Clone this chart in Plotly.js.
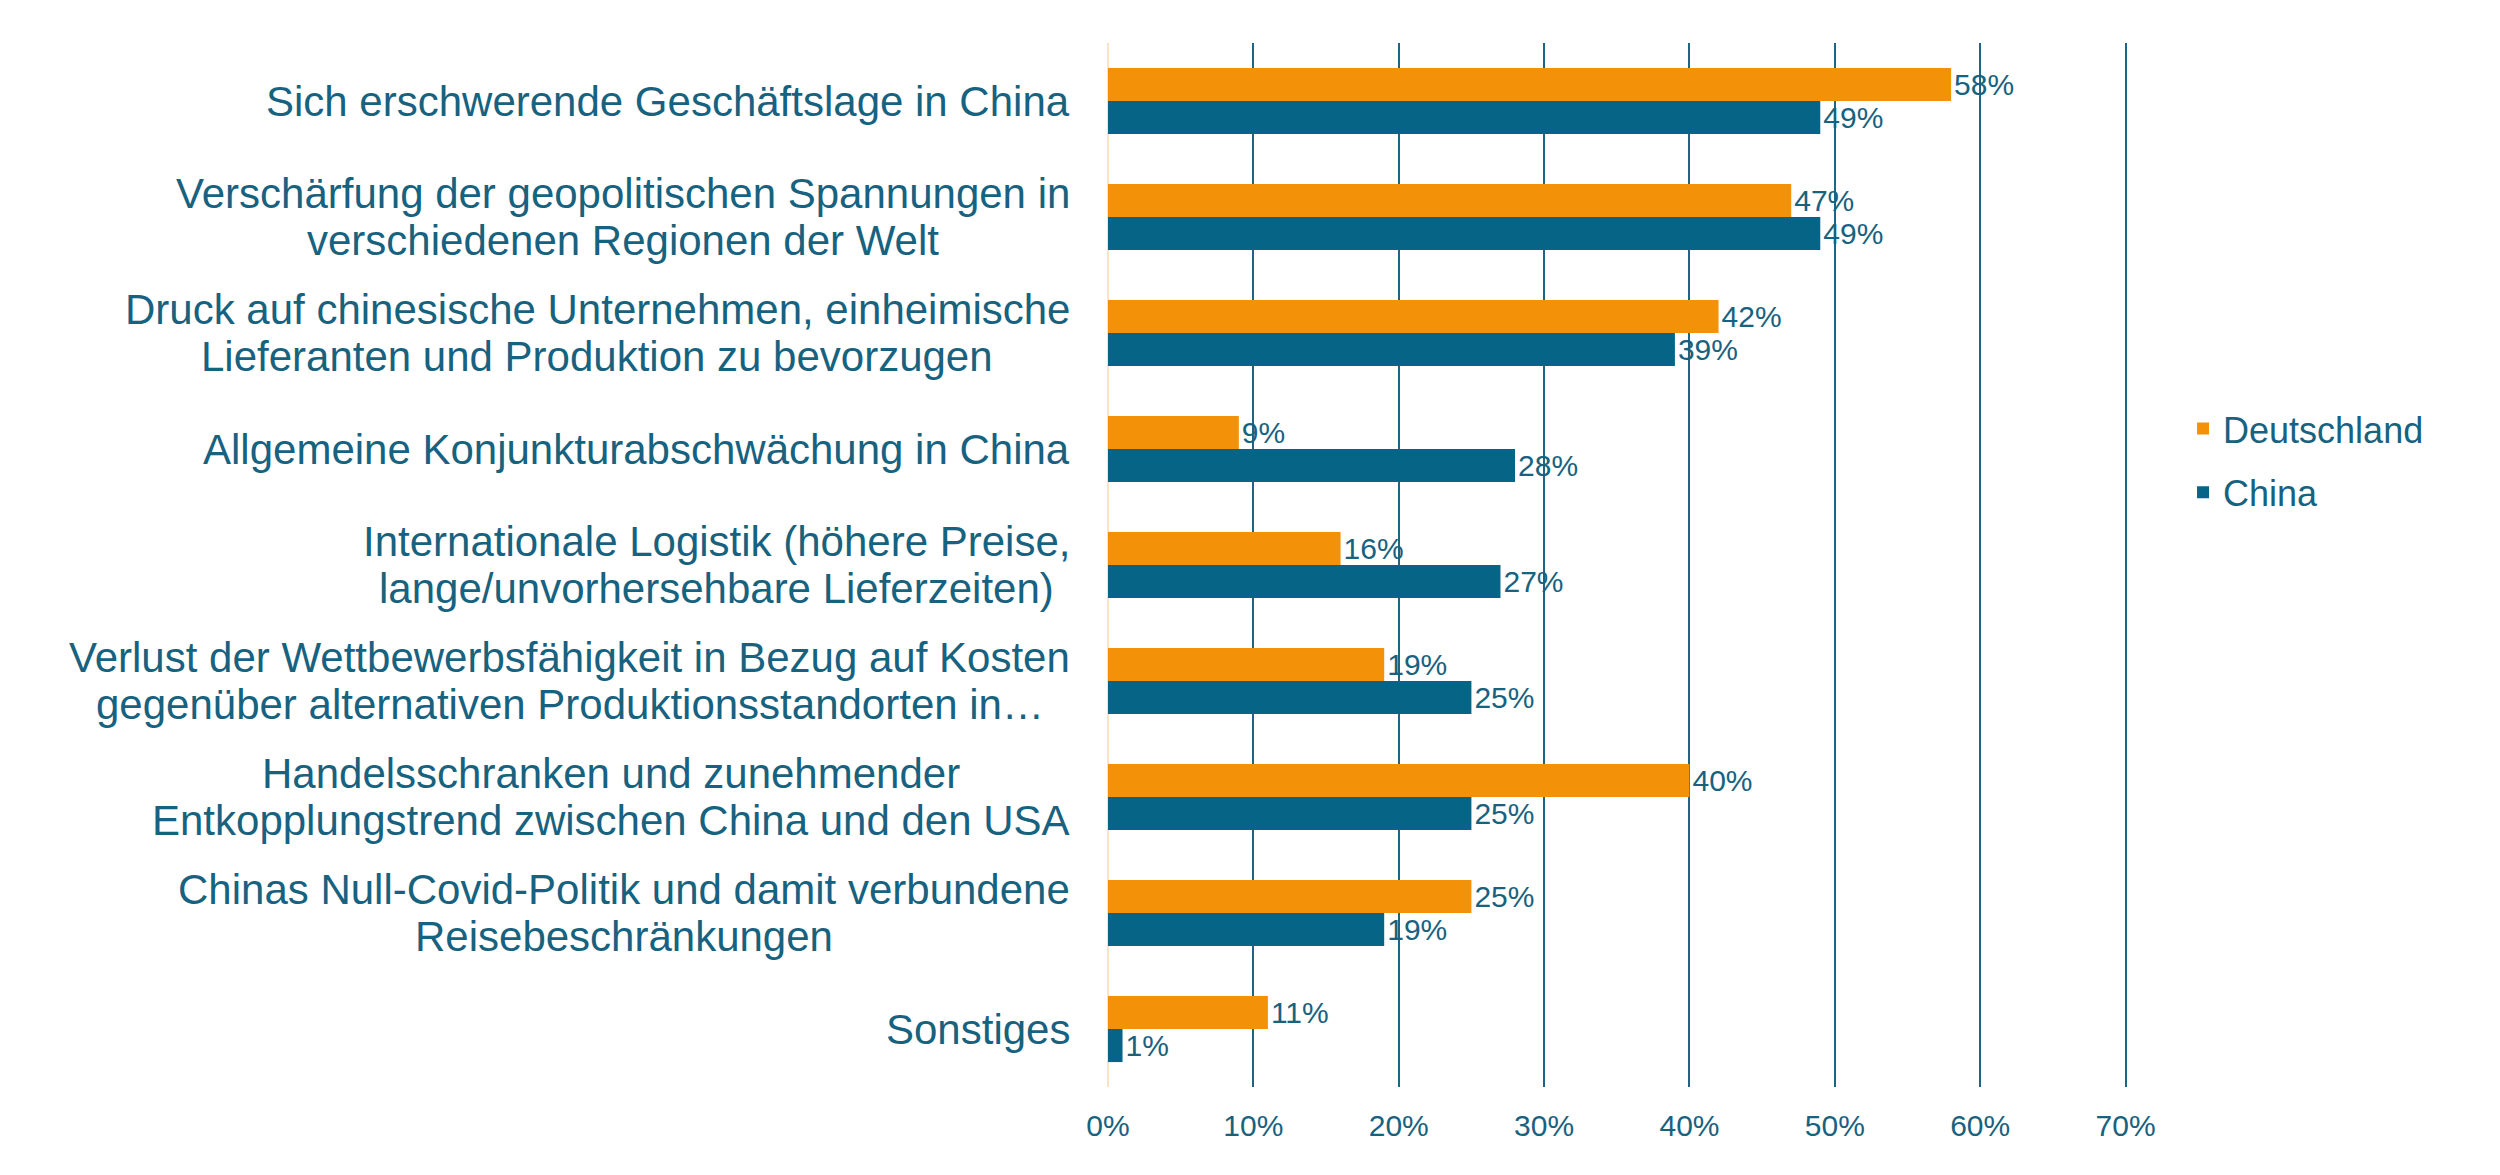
<!DOCTYPE html>
<html>
<head>
<meta charset="utf-8">
<script src="https://cdn.plot.ly/plotly-3.0.1.min.js"></script>
<style>
  html, body { margin: 0; padding: 0; background: #fff; }
  #chart { width: 2500px; height: 1175px; }
</style>
</head>
<body>
<div id="chart"></div>
<script>
    // categories top to bottom, "<br>" marks the line breaks of the labels
    let labels = [
        'Sich erschwerende Geschäftslage in China',
        'Verschärfung der geopolitischen Spannungen in<br>verschiedenen Regionen der Welt',
        'Druck auf chinesische Unternehmen, einheimische<br>Lieferanten und Produktion zu bevorzugen',
        'Allgemeine Konjunkturabschwächung in China',
        'Internationale Logistik (höhere Preise,<br>lange/unvorhersehbare Lieferzeiten) ',
        'Verlust der Wettbewerbsfähigkeit in Bezug auf Kosten<br>gegenüber alternativen Produktionsstandorten in…',
        'Handelsschranken und zunehmender<br>Entkopplungstrend zwischen China und den USA',
        'Chinas Null-Covid-Politik und damit verbundene<br>Reisebeschränkungen',
        'Sonstiges'
    ];
    let deutschland = [58, 47, 42, 9, 16, 19, 40, 25, 11];
    let china = [49, 49, 39, 28, 27, 25, 25, 19, 1];
    let xTicks = [0, 10, 20, 30, 40, 50, 60, 70];
    let xTickText = xTicks.map((v) => v + '%');

    let orange = '#F39208';
    let teal = '#066586';
    let textCol = '#17627F';
    let fontName = '"Liberation Sans", Arial, Helvetica, sans-serif';

    let W = 2500, H = 1175;
    let margin = {l: 1108, r: 373, t: 43, b: 88};
    let labelSize = 42;
    let lineGap = 47;
    let labelRight = 1070; // right edge of the category labels, px

    let traces = [
        {
            type: 'bar', orientation: 'h', name: 'Deutschland', legendgroup: 'de',
            x: deutschland, y: labels,
            marker: {color: orange},
            text: deutschland.map((v) => v + '%'), texttemplate: '%{text}',
            textposition: 'outside', cliponaxis: false, constraintext: 'none',
            textfont: {family: fontName, size: 30, color: textCol},
            hoverinfo: 'skip'
        },
        {
            type: 'bar', orientation: 'h', name: 'China', legendgroup: 'cn',
            x: china, y: labels,
            marker: {color: teal},
            text: china.map((v) => v + '%'), texttemplate: '%{text}',
            textposition: 'outside', cliponaxis: false, constraintext: 'none',
            textfont: {family: fontName, size: 30, color: textCol},
            hoverinfo: 'skip'
        }
    ];

    // category labels: one annotation per line, lines centred on the widest one
    let ctx = document.createElement('canvas').getContext('2d');
    ctx.font = labelSize + 'px "Liberation Sans"';
    let plotW = W - margin.l - margin.r;
    let annots = [];
    labels.forEach((lab) => {
        let lines = lab.split('<br>');
        let widest = Math.max(...lines.map((s) => ctx.measureText(s.trim()).width));
        let cx = (labelRight - widest / 2 - margin.l) / plotW;
        lines.forEach((line, i) => {
            annots.push({
                xref: 'paper', yref: 'y', x: cx, y: lab,
                xanchor: 'center', yanchor: 'middle', showarrow: false,
                yshift: ((lines.length - 1) / 2 - i) * lineGap,
                text: line.trim(),
                font: {family: fontName, size: labelSize, color: textCol}
            });
        });
    });

    let layout = {
        width: W, height: H,
        margin: margin,
        paper_bgcolor: '#fff', plot_bgcolor: '#fff',
        font: {family: fontName, color: textCol},
        barmode: 'group', bargap: 0.43, bargroupgap: 0,
        showlegend: true,
        legend: {
            x: 1.055, xanchor: 'left', y: 0.6, yanchor: 'middle',
            traceorder: 'grouped', tracegroupgap: 14,
            font: {family: fontName, size: 36, color: textCol}
        },
        xaxis: {
            range: [0, 70.1], tickvals: xTicks, ticktext: xTickText,
            showgrid: true, gridcolor: '#1C6585', gridwidth: 2,
            zeroline: true, zerolinecolor: '#FCE3C6', zerolinewidth: 2,
            showline: false, ticks: '', ticklabelstandoff: 18,
            tickfont: {family: fontName, size: 30, color: textCol},
            fixedrange: true
        },
        yaxis: {
            autorange: 'reversed', type: 'category',
            showticklabels: false, showgrid: false, zeroline: false,
            showline: false, ticks: '', fixedrange: true
        },
        annotations: annots
    };

    Plotly.newPlot('chart', traces, layout, {displayModeBar: false, staticPlot: true});
</script>
</body>
</html>
